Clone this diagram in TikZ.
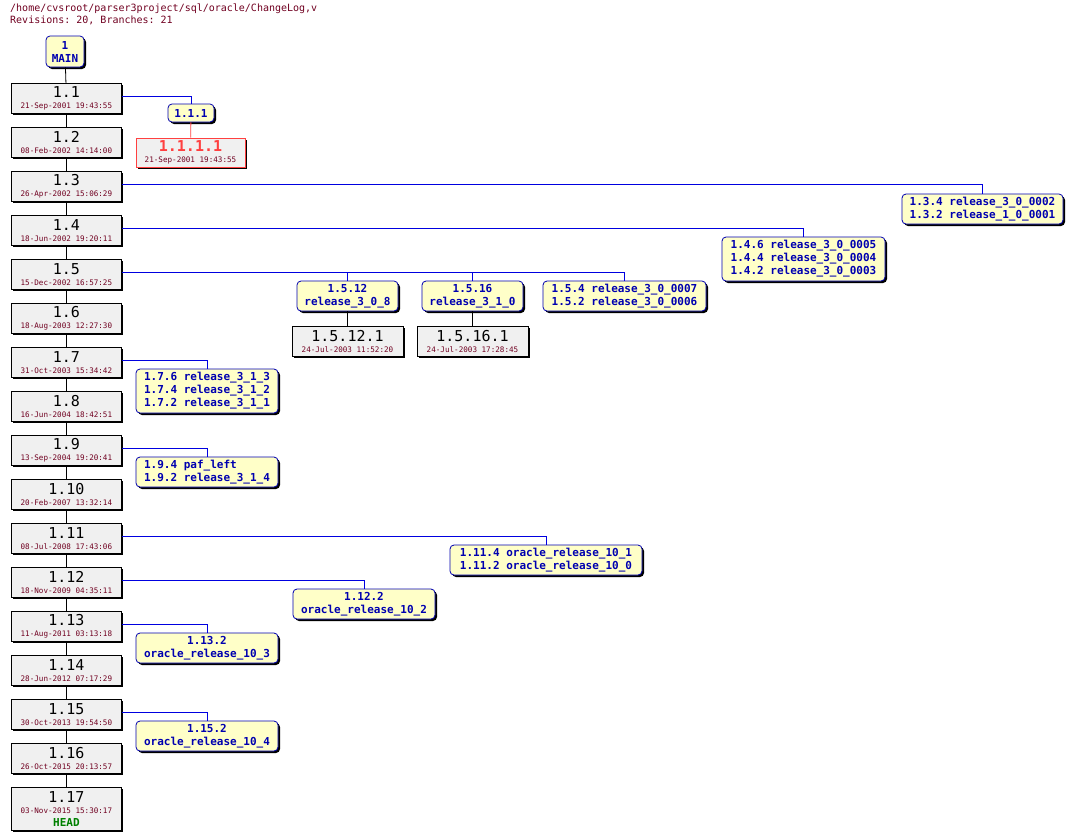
\documentclass[tikz,border=0pt]{standalone}
\usepackage{fontspec}
\setmonofont{DejaVu Sans Mono}
\usetikzlibrary{shadows}
\definecolor{revfill}{HTML}{F0F0F0}
\definecolor{tagfill}{HTML}{FFFFC8}
\definecolor{tagblue}{HTML}{0000B0}
\definecolor{lineblue}{HTML}{0000E0}
\definecolor{datered}{HTML}{700020}
\definecolor{headgreen}{HTML}{008000}
\definecolor{brred}{HTML}{FF4040}
\begin{document}
\begin{tikzpicture}[x=1pt,y=-1pt,font=\ttfamily,
  shad/.style={drop shadow={shadow xshift=2pt,shadow yshift=-2pt,opacity=1,fill=black}},
  revbox/.style={draw=black,fill=revfill,shad,rectangle,inner sep=0pt,align=center,line width=0.8pt},
  tagbox/.style={draw=tagblue,fill=tagfill,shad,rounded corners=4pt,inner sep=0pt,line width=0.8pt,text=tagblue,font=\ttfamily\bfseries\fontsize{11}{13}\selectfont},
  trunk/.style={draw=black,line width=0.8pt},
  br/.style={draw=lineblue,line width=0.8pt}]
\useasboundingbox (0,0) rectangle (1074,839);
\node[anchor=north west,text=datered,font=\ttfamily\fontsize{10}{12}\selectfont,align=left,inner sep=0pt] (hdr) at (10,4) {/home/cvsroot/parser3project/sql/oracle/ChangeLog,v\\Revisions: 20, Branches: 21};
\newcommand{\rv}[4]{% name, top y, number, date
  \node[revbox,minimum width=110pt,minimum height=30pt,anchor=north west] (#1) at (11,#2)
  {{\fontsize{15}{15}\selectfont #3}\\[-1pt]{\color{datered}\fontsize{7.6}{8}\selectfont #4}};}
\node[tagbox,minimum width=38pt,minimum height=31pt,align=center,font=\ttfamily\bfseries\fontsize{11}{13}\selectfont] (main) at (65,51.5) {1\\MAIN};
\rv{r1}{83}{1.1}{21-Sep-2001 19:43:55}
\rv{r2}{127}{1.2}{08-Feb-2002 14:14:00}
\rv{r3}{171}{1.3}{26-Apr-2002 15:06:29}
\rv{r4}{215}{1.4}{18-Jun-2002 19:20:11}
\rv{r5}{259}{1.5}{15-Dec-2002 16:57:25}
\rv{r6}{303}{1.6}{18-Aug-2003 12:27:30}
\rv{r7}{347}{1.7}{31-Oct-2003 15:34:42}
\rv{r8}{391}{1.8}{16-Jun-2004 18:42:51}
\rv{r9}{435}{1.9}{13-Sep-2004 19:20:41}
\rv{r10}{479}{1.10}{20-Feb-2007 13:32:14}
\rv{r11}{523}{1.11}{08-Jul-2008 17:43:06}
\rv{r12}{567}{1.12}{18-Nov-2009 04:35:11}
\rv{r13}{611}{1.13}{11-Aug-2011 03:13:18}
\rv{r14}{655}{1.14}{28-Jun-2012 07:17:29}
\rv{r15}{699}{1.15}{30-Oct-2013 19:54:50}
\rv{r16}{743}{1.16}{26-Oct-2015 20:13:57}
\node[revbox,minimum width=110pt,minimum height=43pt,anchor=north west] (r17) at (11,787)
  {{\fontsize{15}{15}\selectfont 1.17}\\[-1pt]{\color{datered}\fontsize{7.6}{8}\selectfont 03-Nov-2015 15:30:17}\\[1pt]{\color{headgreen}\bfseries\fontsize{11}{12}\selectfont HEAD}};
% trunk
\draw[trunk] (main) -- (r1);
\foreach \a/\b in {r1/r2,r2/r3,r3/r4,r4/r5,r5/r6,r6/r7,r7/r8,r8/r9,r9/r10,r10/r11,r11/r12,r12/r13,r13/r14,r14/r15,r15/r16,r16/r17}
  \draw[trunk] (\a) -- (\b);
% branch 1.1.1
\node[tagbox,minimum width=46pt,minimum height=18pt] (b111) at (191,113) {1.1.1};
\node[revbox,draw=brred,minimum width=109pt,minimum height=29pt] (r1111) at (190.5,152.5)
  {{\color{brred}\bfseries\fontsize{15}{15}\selectfont 1.1.1.1}\\[-1pt]{\color{datered}\fontsize{7.6}{8}\selectfont 21-Sep-2001 19:43:55}};
\draw[br] (r1.east|-0,96) -| (b111.north);
\draw[draw=brred,line width=0.8pt] (b111) -- (r1111);
% 1.3
\node[tagbox,minimum width=161pt,minimum height=30pt,align=left] (b13) at (982.5,209) {1.3.4 release\_3\_0\_0002\\1.3.2 release\_1\_0\_0001};
\draw[br] (r3.east|-0,184) -| (b13.north);
% 1.4
\node[tagbox,minimum width=163pt,minimum height=44pt,align=left] (b14) at (803.5,259) {1.4.6 release\_3\_0\_0005\\1.4.4 release\_3\_0\_0004\\1.4.2 release\_3\_0\_0003};
\draw[br] (r4.east|-0,228) -| (b14.north);
% 1.5
\node[tagbox,minimum width=101pt,minimum height=30pt,align=center] (b1512) at (347.5,296) {1.5.12\\release\_3\_0\_8};
\node[tagbox,minimum width=101pt,minimum height=30pt,align=center] (b1516) at (472.5,296) {1.5.16\\release\_3\_1\_0};
\node[tagbox,minimum width=163pt,minimum height=30pt,align=left] (b154) at (624.5,296) {1.5.4 release\_3\_0\_0007\\1.5.2 release\_3\_0\_0006};
\draw[br] (r5.east|-0,272) -| (b154.north);
\draw[br] (b1512.north|-0,272) -- (b1512.north);
\draw[br] (b1516.north|-0,272) -- (b1516.north);
\node[revbox,minimum width=111pt,minimum height=30pt] (r15121) at (347.5,341)
  {{\fontsize{15}{15}\selectfont 1.5.12.1}\\[-1pt]{\color{datered}\fontsize{7.6}{8}\selectfont 24-Jul-2003 11:52:20}};
\node[revbox,minimum width=111pt,minimum height=30pt] (r15161) at (472.5,341)
  {{\fontsize{15}{15}\selectfont 1.5.16.1}\\[-1pt]{\color{datered}\fontsize{7.6}{8}\selectfont 24-Jul-2003 17:28:45}};
\draw[trunk] (b1512) -- (r15121);
\draw[trunk] (b1516) -- (r15161);
% 1.7
\node[tagbox,minimum width=142pt,minimum height=44pt,align=left] (b17) at (207,391) {1.7.6 release\_3\_1\_3\\1.7.4 release\_3\_1\_2\\1.7.2 release\_3\_1\_1};
\draw[br] (r7.east|-0,360) -| (b17.north);
% 1.9
\node[tagbox,minimum width=142pt,minimum height=30pt,align=left] (b19) at (207,472) {1.9.4 paf\_left\\1.9.2 release\_3\_1\_4};
\draw[br] (r9.east|-0,448) -| (b19.north);
% 1.11
\node[tagbox,minimum width=192pt,minimum height=30pt,align=left] (b111b) at (546,560) {1.11.4 oracle\_release\_10\_1\\1.11.2 oracle\_release\_10\_0};
\draw[br] (r11.east|-0,536) -| (b111b.north);
% 1.12
\node[tagbox,minimum width=142pt,minimum height=30pt,align=center] (b112) at (364,604) {1.12.2\\oracle\_release\_10\_2};
\draw[br] (r12.east|-0,580) -| (b112.north);
% 1.13
\node[tagbox,minimum width=142pt,minimum height=30pt,align=center] (b113) at (207,648) {1.13.2\\oracle\_release\_10\_3};
\draw[br] (r13.east|-0,624) -| (b113.north);
% 1.15
\node[tagbox,minimum width=142pt,minimum height=30pt,align=center] (b115) at (207,736) {1.15.2\\oracle\_release\_10\_4};
\draw[br] (r15.east|-0,712) -| (b115.north);
\end{tikzpicture}
\end{document}
